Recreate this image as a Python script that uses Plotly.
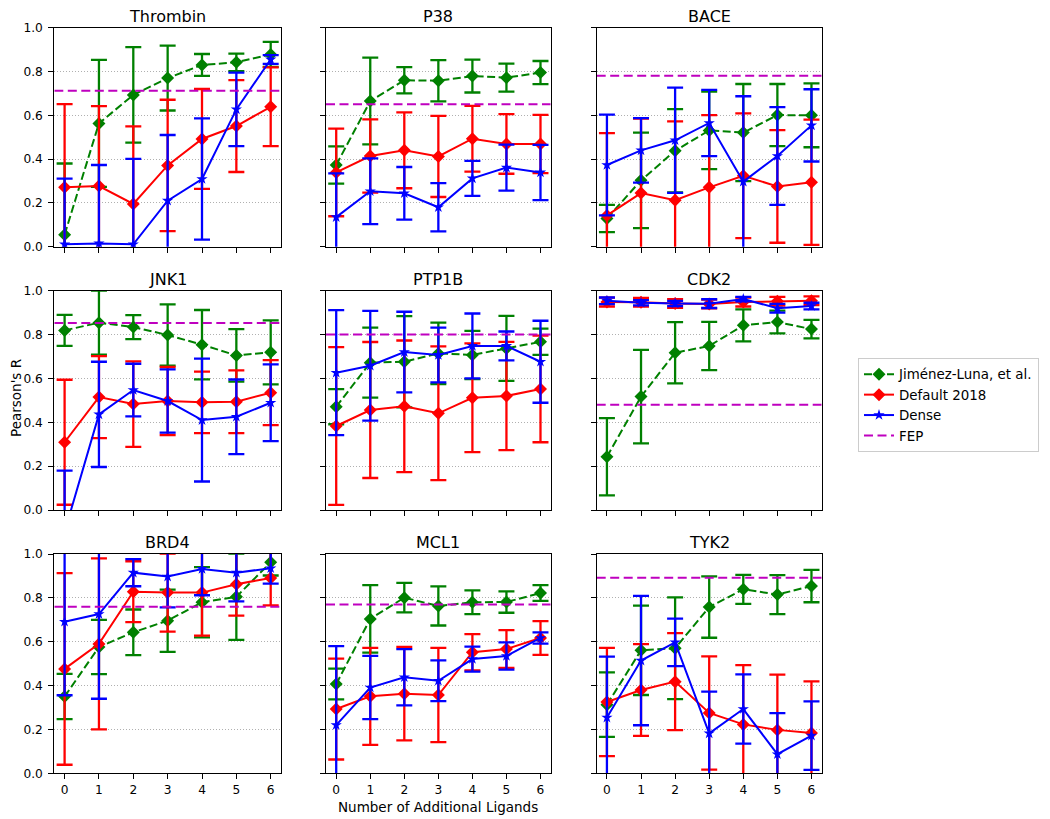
import plotly.graph_objects as go

targets = ["Thrombin", "P38", "BACE", "JNK1", "PTP1B", "CDK2", "BRD4", "MCL1", "TYK2"]
n_ligands = [0, 1, 2, 3, 4, 5, 6]
x_ticks = ["0", "1", "2", "3", "4", "5", "6"]
y_ticks = [0.0, 0.2, 0.4, 0.6, 0.8, 1.0]

# Jiménez-Luna, et al.
jl_mean = [
    [0.055, 0.563, 0.693, 0.770, 0.830, 0.842, 0.878],
    [0.373, 0.665, 0.760, 0.758, 0.779, 0.772, 0.795],
    [0.129, 0.303, 0.438, 0.531, 0.521, 0.601, 0.600],
    [0.819, 0.854, 0.834, 0.798, 0.754, 0.705, 0.719],
    [0.471, 0.672, 0.676, 0.714, 0.707, 0.737, 0.767],
    [0.243, 0.517, 0.717, 0.748, 0.842, 0.857, 0.825],
    [0.350, 0.576, 0.643, 0.696, 0.780, 0.805, 0.962],
    [0.407, 0.704, 0.801, 0.763, 0.780, 0.781, 0.822],
    [0.313, 0.561, 0.570, 0.758, 0.839, 0.815, 0.854],
]
jl_err = [
    [0.325, 0.290, 0.218, 0.148, 0.050, 0.040, 0.057],
    [0.085, 0.198, 0.060, 0.094, 0.075, 0.064, 0.053],
    [0.062, 0.218, 0.190, 0.177, 0.222, 0.142, 0.146],
    [0.071, 0.146, 0.055, 0.140, 0.158, 0.120, 0.146],
    [0.080, 0.160, 0.208, 0.140, 0.110, 0.148, 0.060],
    [0.176, 0.213, 0.140, 0.110, 0.073, 0.052, 0.042],
    [0.103, 0.124, 0.104, 0.142, 0.160, 0.197, 0.060],
    [0.070, 0.154, 0.067, 0.089, 0.054, 0.049, 0.036],
    [0.147, 0.204, 0.232, 0.140, 0.066, 0.089, 0.074],
]

# Default 2018
d18_mean = [
    [0.271, 0.277, 0.195, 0.371, 0.492, 0.551, 0.639],
    [0.339, 0.414, 0.440, 0.412, 0.493, 0.469, 0.469],
    [0.143, 0.245, 0.212, 0.271, 0.324, 0.275, 0.294],
    [0.309, 0.515, 0.483, 0.497, 0.491, 0.494, 0.535],
    [0.383, 0.456, 0.473, 0.441, 0.512, 0.520, 0.552],
    [0.948, 0.947, 0.942, 0.939, 0.948, 0.952, 0.954],
    [0.476, 0.590, 0.828, 0.824, 0.824, 0.862, 0.891],
    [0.293, 0.351, 0.363, 0.357, 0.552, 0.567, 0.617],
    [0.325, 0.380, 0.418, 0.275, 0.223, 0.198, 0.184],
]
d18_err = [
    [0.380, 0.365, 0.354, 0.300, 0.228, 0.210, 0.180],
    [0.200, 0.167, 0.173, 0.185, 0.150, 0.136, 0.133],
    [0.376, 0.340, 0.360, 0.330, 0.285, 0.257, 0.286],
    [0.285, 0.187, 0.195, 0.155, 0.140, 0.143, 0.148],
    [0.360, 0.310, 0.300, 0.305, 0.248, 0.247, 0.243],
    [0.020, 0.020, 0.020, 0.020, 0.020, 0.020, 0.020],
    [0.437, 0.390, 0.139, 0.178, 0.196, 0.143, 0.125],
    [0.230, 0.221, 0.213, 0.215, 0.083, 0.086, 0.077],
    [0.247, 0.209, 0.221, 0.258, 0.270, 0.252, 0.235],
]

# Dense
dense_mean = [
    [0.011, 0.015, 0.011, 0.210, 0.309, 0.627, 0.855],
    [0.135, 0.253, 0.244, 0.180, 0.312, 0.361, 0.339],
    [0.373, 0.440, 0.486, 0.565, 0.297, 0.414, 0.554],
    [-0.100, 0.436, 0.547, 0.497, 0.410, 0.425, 0.489],
    [0.626, 0.658, 0.720, 0.707, 0.748, 0.748, 0.676],
    [0.954, 0.945, 0.942, 0.941, 0.962, 0.920, 0.930],
    [0.691, 0.726, 0.915, 0.897, 0.932, 0.915, 0.935],
    [0.220, 0.391, 0.438, 0.422, 0.521, 0.535, 0.617],
    [0.254, 0.514, 0.597, 0.182, 0.293, 0.087, 0.172],
]
dense_err = [
    [0.300, 0.358, 0.390, 0.300, 0.277, 0.168, 0.020],
    [0.200, 0.150, 0.120, 0.110, 0.080, 0.105, 0.126],
    [0.230, 0.147, 0.240, 0.151, 0.390, 0.223, 0.165],
    [0.280, 0.240, 0.120, 0.144, 0.280, 0.170, 0.175],
    [0.285, 0.250, 0.184, 0.125, 0.148, 0.066, 0.187],
    [0.015, 0.012, 0.012, 0.020, 0.010, 0.020, 0.015],
    [0.335, 0.386, 0.062, 0.140, 0.120, 0.131, 0.070],
    [0.360, 0.144, 0.128, 0.093, 0.057, 0.062, 0.026],
    [0.278, 0.295, 0.108, 0.190, 0.158, 0.187, 0.156],
]

fep = [0.712, 0.651, 0.781, 0.853, 0.800, 0.480, 0.760, 0.770, 0.892]

# page is offset by the default 8px body margin; size figure to fill the window
OFF = 8
W, H = 1050 - OFF, 819 - OFF
col_px = [(54.3, 281.0), (326.0, 550.7), (596.7, 821.7)]
row_px = [(27.7, 246.7), (290.7, 510.0), (554.0, 773.3)]


def px_x(x):
    return (x - OFF) / W


def px_y(y):
    return 1 - (y - OFF) / H


FONT = "DejaVu Sans"
GREEN, RED, BLUE, MAG = "#008000", "#ff0000", "#0000ff", "#bf00bf"
XR = [-0.3, 6.3]

fig = go.Figure()
annotations = []

for i, name in enumerate(targets):
    r, c = divmod(i, 3)
    ax = "" if i == 0 else str(i + 1)
    xref, yref = "x" + ax, "y" + ax
    x0, x1 = col_px[c]
    yt, yb = row_px[r]
    xdom = [px_x(x0), px_x(x1)]
    ydom = [px_y(yb), px_y(yt)]
    first = i == 0

    fig.add_trace(go.Scatter(
        x=n_ligands, y=jl_mean[i], name="Jiménez-Luna, et al.", legendgroup="jl",
        showlegend=first, mode="lines+markers", xaxis=xref, yaxis=yref,
        line=dict(color=GREEN, width=2, dash="8px,3.5px"),
        marker=dict(symbol="diamond", size=10, color=GREEN),
        error_y=dict(type="data", array=jl_err[i], color=GREEN, thickness=2.3, width=8),
    ))
    fig.add_trace(go.Scatter(
        x=n_ligands, y=d18_mean[i], name="Default 2018", legendgroup="d18",
        showlegend=first, mode="lines+markers", xaxis=xref, yaxis=yref,
        line=dict(color=RED, width=2),
        marker=dict(symbol="diamond", size=10, color=RED),
        error_y=dict(type="data", array=d18_err[i], color=RED, thickness=2.3, width=8),
    ))
    fig.add_trace(go.Scatter(
        x=n_ligands, y=dense_mean[i], name="Dense", legendgroup="dense",
        showlegend=first, mode="lines+markers", xaxis=xref, yaxis=yref,
        line=dict(color=BLUE, width=2),
        marker=dict(symbol="star", size=8.5, color=BLUE),
        error_y=dict(type="data", array=dense_err[i], color=BLUE, thickness=2.3, width=8),
    ))
    fig.add_trace(go.Scatter(
        x=XR, y=[fep[i], fep[i]], name="FEP", legendgroup="fep",
        showlegend=first, mode="lines", xaxis=xref, yaxis=yref,
        line=dict(color=MAG, width=2, dash="9px,4.5px"),
        hoverinfo="skip",
    ))

    fig.layout["xaxis" + ax] = dict(
        domain=xdom, anchor=yref, range=XR, tickmode="array", tickvals=n_ligands,
        ticktext=x_ticks, showticklabels=(r == 2), ticks="outside", ticklen=5,
        tickcolor="black", showgrid=False, zeroline=False, showline=True,
        mirror=True, linecolor="black", linewidth=1,
        tickfont=dict(family=FONT, size=12.2, color="black"),
    )
    fig.layout["yaxis" + ax] = dict(
        domain=ydom, anchor=xref, range=[0, 1], tickmode="array", tickvals=y_ticks,
        ticktext=["%.1f" % v for v in y_ticks], showticklabels=(c == 0),
        ticks="outside", ticklen=5, tickcolor="black", ticklabelstandoff=3,
        showgrid=True, gridcolor="#b0b0b0", griddash="1px,2px", gridwidth=1,
        zeroline=False, showline=True, mirror=True, linecolor="black", linewidth=1,
        tickfont=dict(family=FONT, size=12.2, color="black"),
    )
    annotations.append(dict(
        text=name, x=(xdom[0] + xdom[1]) / 2, y=px_y(yt - 11.5), xref="paper",
        yref="paper", xanchor="center", yanchor="middle", borderpad=0,
        showarrow=False, font=dict(family=FONT, size=16, color="black"),
    ))

annotations.append(dict(
    text="Pearson's R", x=px_x(16), y=px_y(398), xref="paper", yref="paper",
    xanchor="center", yanchor="middle", textangle=-90, showarrow=False,
    borderpad=0, font=dict(family=FONT, size=13.5, color="black"),
))
annotations.append(dict(
    text="Number of Additional Ligands", x=px_x(438), y=px_y(807), xref="paper",
    yref="paper", xanchor="center", yanchor="middle", showarrow=False,
    font=dict(family=FONT, size=13.5, color="black"),
))

fig.update_layout(
    width=W, height=H, margin=dict(l=0, r=0, t=0, b=0, autoexpand=False),
    paper_bgcolor="white", plot_bgcolor="white",
    font=dict(family=FONT, size=12.2, color="black"),
    annotations=annotations,
    legend=dict(
        x=px_x(858), y=px_y(358), xanchor="left", yanchor="top",
        bgcolor="white", bordercolor="#cccccc", borderwidth=1,
        font=dict(family=FONT, size=13.4, color="black"), tracegroupgap=0,
        itemwidth=30,
    ),
    showlegend=True,
)

fig.write_html("out.html")
